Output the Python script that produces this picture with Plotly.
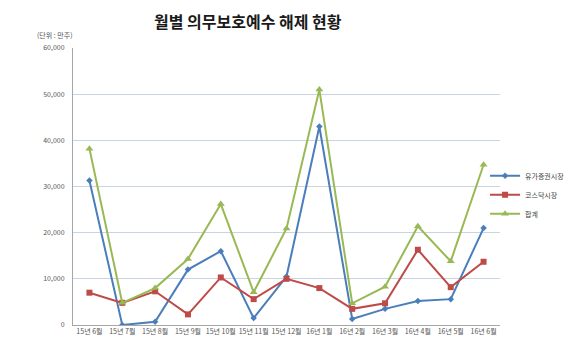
import plotly.graph_objects as go

categories = ["15년 6월", "15년 7월", "15년 8월", "15년 9월", "15년 10월", "15년 11월", "15년 12월",
              "16년 1월", "16년 2월", "16년 3월", "16년 4월", "16년 5월", "16년 6월"]
kospi = [31300, 0, 700, 12000, 16000, 1500, 10500, 43000, 1300, 3500, 5200, 5600, 21000]
kosdaq = [7000, 4800, 7300, 2300, 10300, 5600, 10000, 8000, 3500, 4700, 16300, 8200, 13700]
total = [38200, 4800, 8000, 14300, 26200, 7100, 20900, 51000, 4700, 8300, 21400, 13800, 34700]
y_ticks = [0, 10000, 20000, 30000, 40000, 50000, 60000]

FONT = "Noto Sans CJK KR"

fig = go.Figure()
fig.add_trace(go.Scatter(x=categories, y=kospi, name="유가증권시장", mode="lines+markers",
                         line=dict(color="#4a7ebb", width=2),
                         marker=dict(symbol="diamond", size=5, color="#4a7ebb")))
fig.add_trace(go.Scatter(x=categories, y=kosdaq, name="코스닥시장", mode="lines+markers",
                         line=dict(color="#be4b48", width=2),
                         marker=dict(symbol="square", size=6, color="#be4b48")))
fig.add_trace(go.Scatter(x=categories, y=total, name="합계", mode="lines+markers",
                         line=dict(color="#98b954", width=2),
                         marker=dict(symbol="triangle-up", size=7, color="#98b954")))

fig.update_layout(
    width=583, height=352,
    margin=dict(l=73, r=83, t=48, b=27),
    paper_bgcolor="white", plot_bgcolor="white",
    font=dict(family=FONT, size=7, color="#555555"),
    title=dict(text="<b>월별 의무보호예수 해제 현황</b>", x=0.425, xanchor="center",
               y=0.935, yanchor="middle",
               font=dict(family=FONT, size=16, color="#1a1a1a")),
    showlegend=True,
    legend=dict(x=0.965, xanchor="left", y=0.47, yanchor="middle",
                font=dict(family=FONT, size=7, color="#444444"),
                bgcolor="rgba(0,0,0,0)", tracegroupgap=0, itemwidth=30),
    xaxis=dict(type="category", showgrid=False, showline=True, linecolor="#a6a6a6",
               linewidth=1, ticks="", tickfont=dict(size=7, color="#555555"),
               tickangle=0, range=[-0.5, 12.5], fixedrange=True),
    yaxis=dict(range=[0, 60000], tickvals=y_ticks, tickformat=",d",
               showgrid=True, gridcolor="#c9d3e2", gridwidth=1,
               showline=True, linecolor="#a6a6a6", linewidth=1,
               zeroline=False, ticks="", tickfont=dict(size=7, color="#555555"),
               ticklabelstandoff=6),
    annotations=[dict(text="(단위 : 만주)", xref="paper", yref="paper", x=-0.042, y=1.047,
                      xanchor="center", yanchor="middle", showarrow=False,
                      font=dict(family=FONT, size=7, color="#555555"))],
)

fig.write_html("out.html")
